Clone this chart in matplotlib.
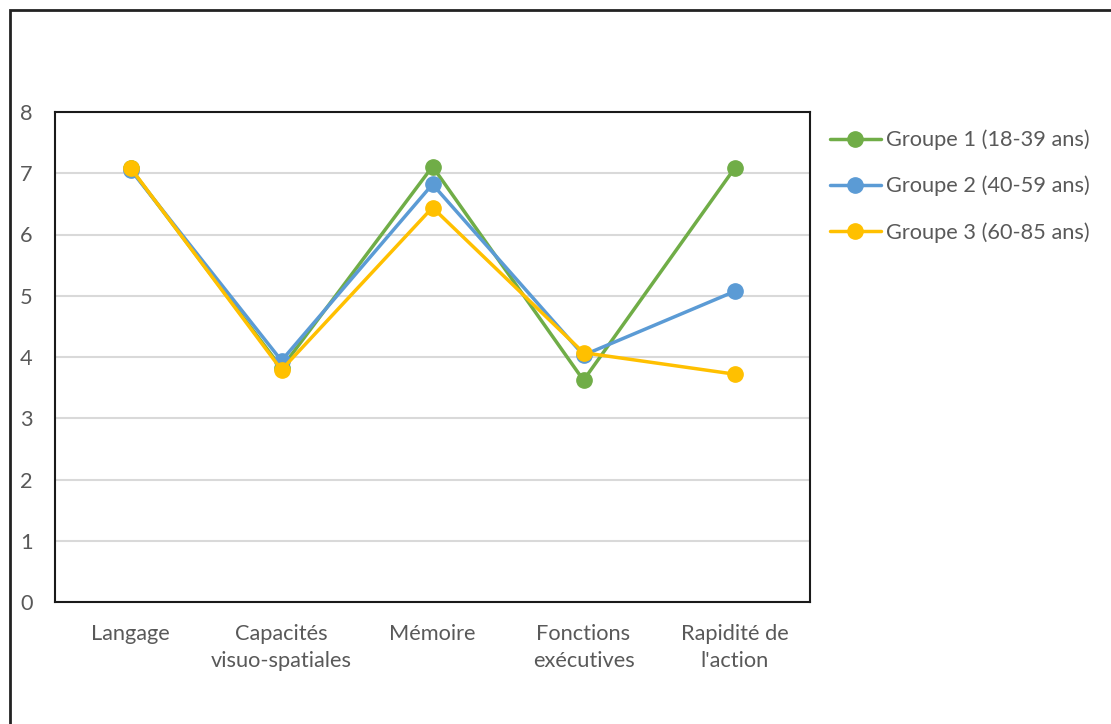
import matplotlib
matplotlib.use('Agg')
import matplotlib.pyplot as plt
from matplotlib.patches import Rectangle

# categories and values
categories = ["Langage", "Capacités\nvisuo-spatiales", "Mémoire", "Fonctions\nexécutives", "Rapidité de\nl'action"]
groupe1 = [7.08, 3.82, 7.11, 3.62, 7.08]
groupe2 = [7.06, 3.94, 6.82, 4.03, 5.07]
groupe3 = [7.09, 3.79, 6.44, 4.07, 3.72]
labels = ["Groupe 1 (18-39 ans)", "Groupe 2 (40-59 ans)", "Groupe 3 (60-85 ans)"]
colors = ["#70AD47", "#5B9BD5", "#FFC000"]
yticks = [0, 1, 2, 3, 4, 5, 6, 7, 8]

plt.rcParams['font.family'] = ['Lato', 'DejaVu Sans']
W, H = 1111, 724
fs = 15.7
fig = plt.figure(figsize=(W / 100, H / 100), dpi=100)
ax = fig.add_axes([55 / W, 1 - 602 / H, (810 - 55) / W, (602 - 112) / H])

x = list(range(len(categories)))
for vals, lab, col in zip([groupe1, groupe2, groupe3], labels, colors):
    ax.plot(x, vals, color=col, lw=2.5, marker='o', ms=11, label=lab, solid_capstyle='round')

ax.set_xlim(-0.5, len(categories) - 0.5)
ax.set_ylim(0, 8)
ax.set_yticks(yticks)
ax.set_xticks(x)
ax.set_xticklabels(categories, fontsize=fs, color='#595959', linespacing=1.45)
ax.tick_params(axis='y', labelsize=fs, colors='#595959', length=0, pad=16)
ax.tick_params(axis='x', length=0, pad=16)
ax.grid(axis='y', color='#D9D9D9', lw=1.5)
ax.set_axisbelow(True)
for s in ax.spines.values():
    s.set_color('#1a1a1a')
    s.set_linewidth(1.5)

leg = fig.legend(loc='upper left', bbox_to_anchor=(821 / W, 1 - 121 / H), frameon=False,
                 fontsize=fs, labelcolor='#595959', handlelength=2.35, handletextpad=0.25,
                 labelspacing=1.17, borderaxespad=0)

# outer chart border
fig.patches.append(Rectangle((10 / W, -0.1), 1.2, 1 - 10 / H + 0.1, transform=fig.transFigure,
                             fill=False, edgecolor='#222222', lw=2))

fig.savefig('out.png', dpi=100)
